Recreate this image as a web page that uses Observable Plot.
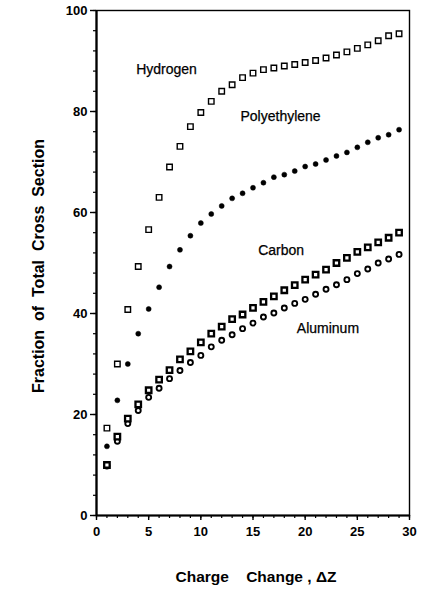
<!DOCTYPE html>
<html>
<head>
<meta charset="utf-8">
<script src="https://cdn.jsdelivr.net/npm/d3@7"></script>
<script src="https://cdn.jsdelivr.net/npm/@observablehq/plot@0.6"></script>
<style>
  html, body { margin: 0; padding: 0; background: #fff; }
  #chart svg { display: block; }
</style>
</head>
<body>
<div id="chart"></div>
<script>
// Charge change ΔZ
const chargeChange = [1,2,3,4,5,6,7,8,9,10,11,12,13,14,15,16,17,18,19,20,21,22,23,24,25,26,27,28,29];

// Fraction of total cross section (%)
const hydrogen = [17.3,30.0,40.8,49.3,56.6,63.0,69.0,73.1,77.0,79.8,82.0,84.0,85.3,86.7,87.6,88.3,88.6,89.0,89.3,89.7,90.1,90.6,91.2,91.8,92.5,93.2,94.0,95.0,95.4];
const polyethylene = [13.7,22.8,30.0,36.0,40.9,45.2,49.3,52.6,55.4,57.9,59.7,61.3,62.8,63.8,64.9,65.9,67.0,67.5,68.2,69.1,69.6,70.4,71.2,71.9,72.9,73.9,74.8,75.4,76.4];
const carbon = [10.0,15.6,19.2,22.0,24.8,26.9,28.8,30.9,32.5,34.3,36.0,37.4,38.9,39.8,41.1,42.3,43.4,44.6,45.6,46.7,47.7,48.7,50.0,51.0,52.2,53.1,54.1,55.0,56.0];
const aluminum = [9.8,14.7,18.2,20.8,23.4,25.2,27.1,28.7,30.3,31.7,33.4,34.7,35.8,37.0,38.1,39.3,40.1,41.1,42.0,42.8,43.8,44.8,45.7,46.7,47.9,48.8,50.0,50.8,51.7];

// Series labels (name and data-space anchor)
const labelNames = ["Hydrogen", "Polyethylene", "Carbon", "Aluminum"];
const labelX = [3.8, 13.8, 15.5, 19.2];
const labelY = [88.3, 79.0, 52.5, 37.0];

const xTicks = [0, 5, 10, 15, 20, 25, 30];
const yTicks = [0, 20, 40, 60, 80, 100];
const xTitle = "Charge\u00a0\u00a0\u00a0\u00a0Change\u00a0, ΔZ";
const yTitle = "Fraction\u00a0\u00a0of\u00a0\u00a0Total\u00a0\u00a0Cross\u00a0\u00a0Section";

const toRows = (vals) => chargeChange.map((x, i) => ({x, y: vals[i]}));
const labels = labelNames.map((t, i) => ({t, x: labelX[i], y: labelY[i]}));

const chart = Plot.plot({
  width: 427,
  height: 589,
  marginLeft: 96,
  marginRight: 18,
  marginTop: 10,
  marginBottom: 74,
  style: { fontFamily: "'Liberation Sans', Arial, Helvetica, sans-serif", fontSize: "13px", color: "#000", background: "#fff" },
  x: { domain: [0, 30] },
  y: { domain: [0, 100] },
  marks: [
    Plot.frame({ stroke: "#000", strokeWidth: 1.4 }),
    Plot.ruleX([0], { stroke: "#000", strokeWidth: 2.2 }),
    Plot.ruleY([0], { stroke: "#000", strokeWidth: 2.2 }),
    // minor ticks
    Plot.axisY({ ticks: d3.range(0, 101, 4), tickSize: 3, text: null, label: null, strokeWidth: 1.2 }),
    Plot.axisX({ ticks: d3.range(0, 31, 1), tickSize: 3, text: null, label: null, strokeWidth: 1.2 }),
    // major ticks + labels
    Plot.axisY({ ticks: yTicks, tickSize: 6, tickPadding: 3, label: null, fontWeight: "bold", fontSize: 13, strokeWidth: 1.4 }),
    Plot.axisX({ ticks: xTicks, tickSize: 5, tickPadding: 6, label: null, fontWeight: "bold", fontSize: 13, strokeWidth: 1.4 }),
    // axis titles
    Plot.text([yTitle], { text: d => d, frameAnchor: "left", textAnchor: "middle", lineAnchor: "middle", dx: -58, dy: 3, rotate: -90, fontWeight: "bold", fontSize: 16 }),
    Plot.text([xTitle], { text: d => d, frameAnchor: "bottom", textAnchor: "middle", lineAnchor: "middle", dy: 62, dx: 3, fontWeight: "bold", fontSize: 15.5 }),
    // data
    Plot.dot(toRows(aluminum), { x: "x", y: "y", r: 2.5, fill: "#fff", stroke: "#000", strokeWidth: 1.9 }),
    Plot.dot(toRows(carbon), { x: "x", y: "y", symbol: "square", r: 3.1, fill: "#fff", stroke: "#000", strokeWidth: 2.3 }),
    Plot.dot(toRows(polyethylene), { x: "x", y: "y", r: 2.5, fill: "#000", stroke: "#000", strokeWidth: 0.5 }),
    Plot.dot(toRows(hydrogen), { x: "x", y: "y", symbol: "square", r: 3.1, fill: "#fff", stroke: "#000", strokeWidth: 1.4 }),
    // series labels
    Plot.text(labels, { x: "x", y: "y", text: "t", textAnchor: "start", fontSize: 14, fill: "#000", stroke: "#000", strokeWidth: 0.25 })
  ]
});
document.getElementById("chart").appendChild(chart);
</script>
</body>
</html>
